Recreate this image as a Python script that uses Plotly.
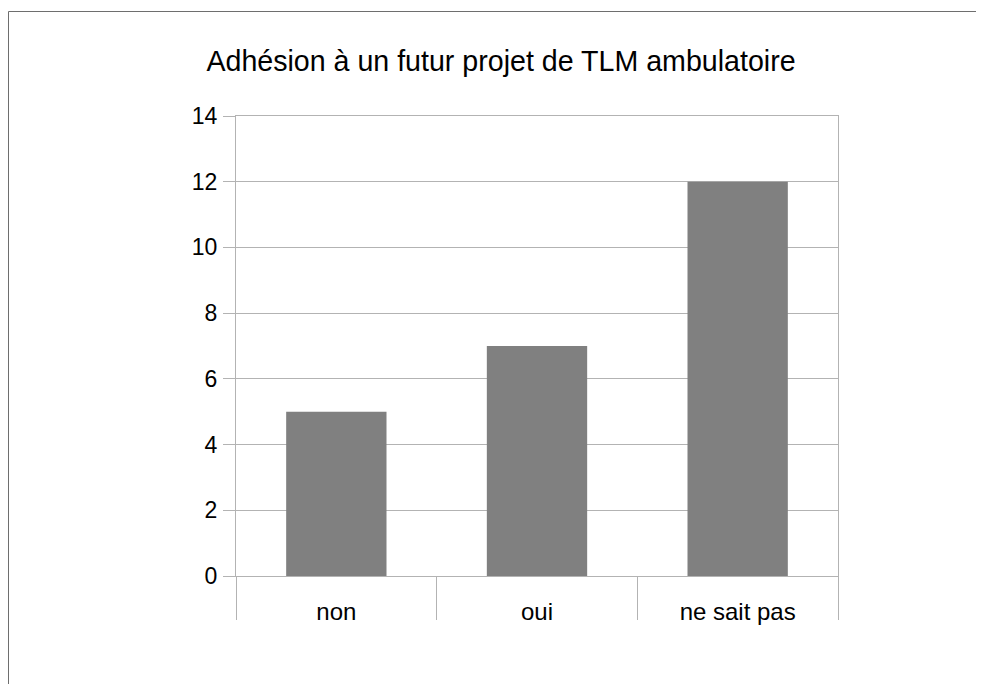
import plotly.graph_objects as go

categories = ["non", "oui", "ne sait pas"]
values = [5, 7, 12]
y_ticks = [0, 2, 4, 6, 8, 10, 12, 14]
title_text = "Adhésion à un futur projet de TLM ambulatoire"

# page is rendered with an 8px body margin; work in page pixels, convert to figure pixels
OFF = 8
W, H = 984 - OFF, 684 - OFF
L = 236 - OFF
T = 116 - OFF
pw = 838 - 236
ph = 576 - 116
R = W - L - pw
B = H - T - ph

def px_x(x):  # page px -> paper
    return (x - OFF - L) / pw

def px_y(y):
    return (T + ph - (y - OFF)) / ph

grid = "#b3b3b3"
fig = go.Figure(go.Bar(x=categories, y=values, marker=dict(color="#808080", line=dict(width=0))))

fig.update_layout(
    width=W, height=H,
    margin=dict(l=L, r=R, t=T, b=B),
    paper_bgcolor="white", plot_bgcolor="white",
    font=dict(family="Liberation Sans, Arial, sans-serif", color="black", size=24),
    bargap=0.5,
    showlegend=False,
    title=dict(text=title_text, font=dict(size=28.6), x=px_x(501), xref="paper",
               y=1 - (61 - OFF) / H, yref="container", xanchor="center", yanchor="middle"),
    shapes=[dict(type="rect", xref="paper", yref="paper",
                 x0=px_x(8.5), x1=px_x(983.5), y0=px_y(720), y1=px_y(11.5),
                 line=dict(color="#6e6e6e", width=1), fillcolor="rgba(0,0,0,0)", layer="below")],
)
fig.update_xaxes(
    showgrid=False, showline=True, linecolor=grid, linewidth=1, mirror=True,
    ticks="outside", tickson="boundaries", ticklen=43, tickcolor=grid, tickwidth=1,
    ticklabelstandoff=14, tickfont=dict(size=24),
)
fig.update_yaxes(
    range=[0, 14], tickvals=y_ticks, showgrid=True, gridcolor=grid, gridwidth=1,
    showline=True, linecolor=grid, linewidth=1, mirror=True,
    ticks="outside", ticklen=12, tickcolor=grid, zeroline=False,
    ticklabelstandoff=1, tickfont=dict(size=23),
)
fig.write_html("out.html")
